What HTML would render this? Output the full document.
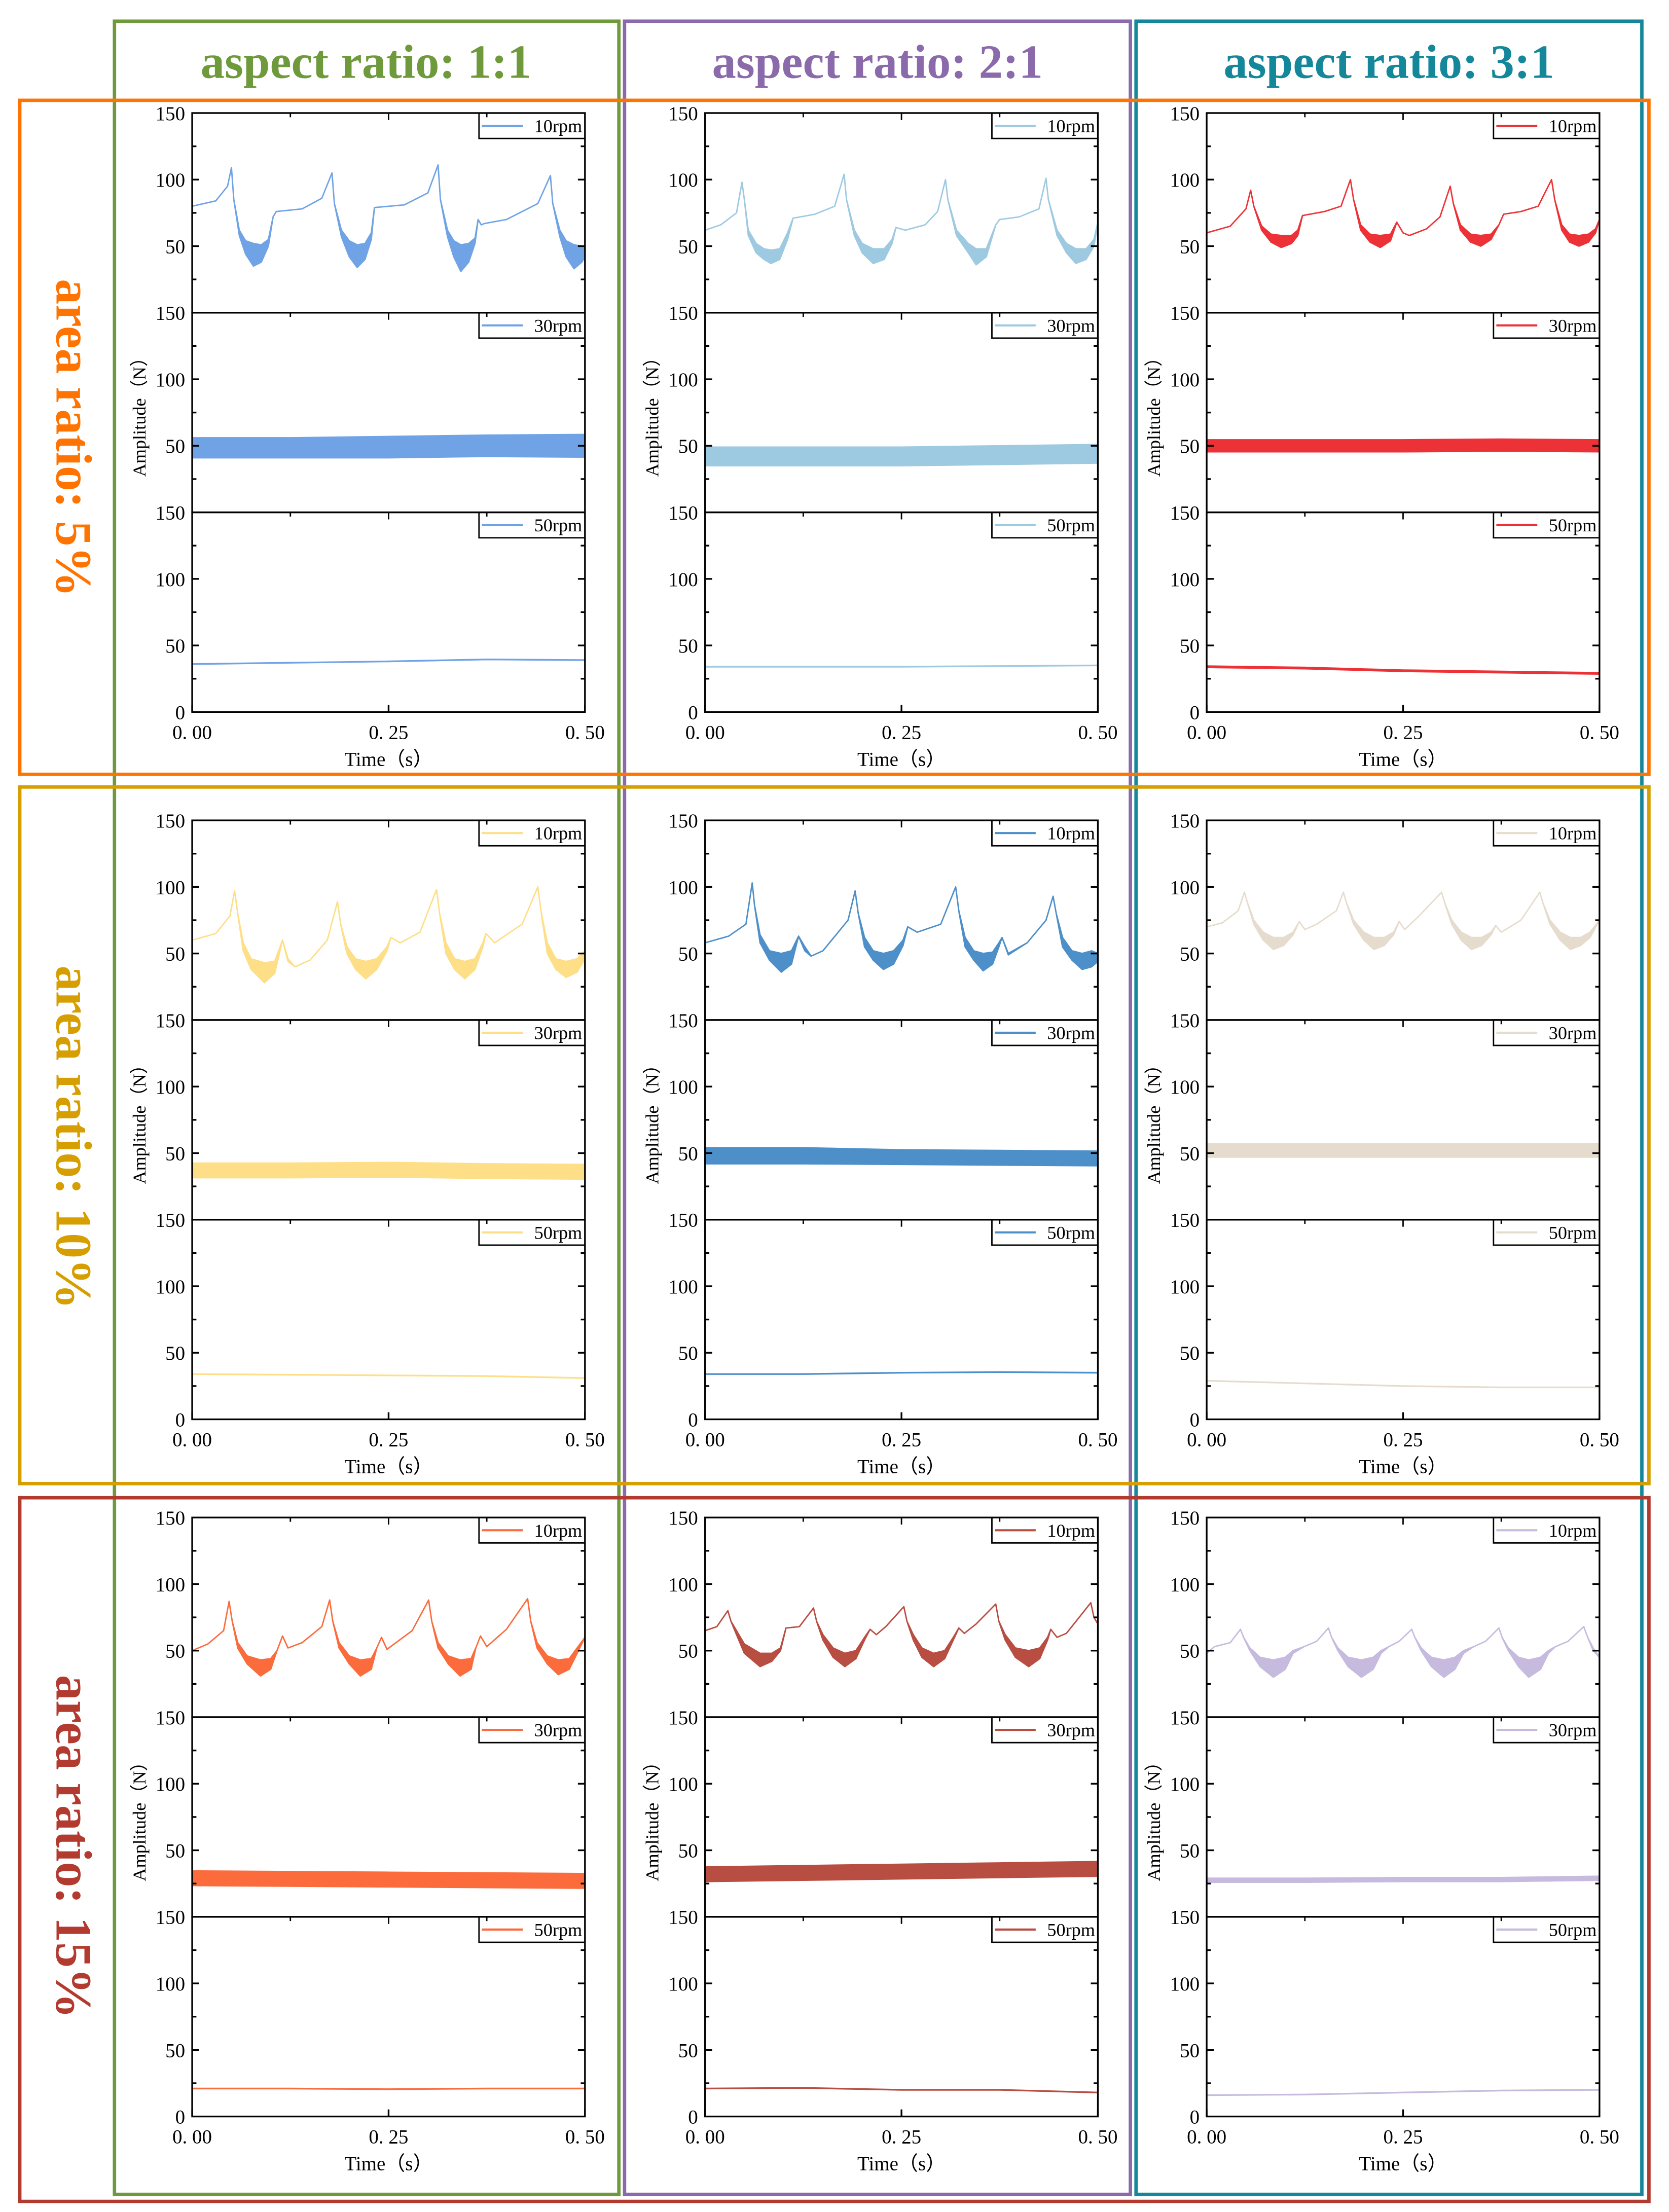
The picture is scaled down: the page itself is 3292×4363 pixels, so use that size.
<!DOCTYPE html>
<html><head><meta charset="utf-8">
<style>
html,body{margin:0;padding:0;background:#fff;}
svg{display:block;}
text{font-family:"Liberation Serif",serif;}
</style></head>
<body>
<svg id="fig" xmlns="http://www.w3.org/2000/svg" width="3292" height="4363" viewBox="0 0 1181.2 1565.5">
<rect x="0" y="0" width="1181.2" height="1565.5" fill="#fff"/>
<g id="frames" fill="none" stroke-width="2.4">
 <rect x="81" y="15" width="357" height="1538" stroke="#6e9a3c"/>
 <rect x="442" y="15" width="358" height="1538" stroke="#8a6aaa"/>
 <rect x="804" y="15" width="358" height="1538" stroke="#14889a"/>
 <rect x="14" y="71" width="1153" height="477" stroke="#ff7300"/>
 <rect x="14" y="557" width="1153" height="493" stroke="#d69e00"/>
 <rect x="14" y="1060" width="1153" height="498" stroke="#b23a2e"/>
</g>
<g font-weight="bold" font-size="34" text-anchor="middle">
 <text x="259" y="55" fill="#6e9a3c">aspect ratio: 1:1</text>
 <text x="621" y="55" fill="#8a6aaa">aspect ratio: 2:1</text>
 <text x="983" y="55" fill="#14889a">aspect ratio: 3:1</text>
 <text transform="translate(52,310) rotate(90)" dominant-baseline="central" font-size="36" fill="#ff7300">area ratio: 5%</text>
 <text transform="translate(52,805) rotate(90)" dominant-baseline="central" font-size="36" fill="#d69e00">area ratio: 10%</text>
 <text transform="translate(52,1307) rotate(90)" dominant-baseline="central" font-size="36" fill="#b23a2e">area ratio: 15%</text>
</g>
<g id="charts"></g>
</svg>
<script>
// ---------- data ----------
const xTickValues = [0, 0.25, 0.5];
const xTickLabels = ["0. 00", "0. 25", "0. 50"];
const yTickValues = [150, 100, 50];
const speedLabels = ["10rpm", "30rpm", "50rpm"];
const bandT = [0, 0.125, 0.25, 0.375, 0.5];

const t_r1c1 = [0,.03,.045,.050,.053,.060,.068,.078,.088,.097,.103,.107,.14,.165,.178,.181,.19,.200,.210,.220,.228,.232,.27,.30,.313,.316,.325,.333,.342,.352,.360,.364,.368,.372,.40,.44,.456,.459,.468,.476,.486,.496,.5];
const hi_r1c1 = [80,84,95,109,85,62,54,52,51,55,72,76,78,86,105,82,62,54,51,52,60,79,81,90,111,85,62,54,51,52,56,70,66,67,70,82,103,82,62,54,51,50,50];
const lo_r1c1 = [80,84,95,109,85,58,44,35,38,50,72,76,78,86,105,82,57,42,34,40,55,79,81,90,111,85,57,42,31,38,52,70,66,67,70,82,103,82,57,42,33,38,42];

const t_r1c2 = [0,.02,.04,.047,.050,.055,.065,.075,.084,.095,.105,.112,.14,.165,.177,.180,.19,.200,.214,.228,.238,.243,.255,.28,.296,.306,.309,.32,.335,.345,.358,.370,.375,.40,.425,.434,.437,.448,.46,.472,.485,.495,.5];
const hi_r1c2 = [62,66,75,98,85,62,52,48,47,48,60,71,74,80,104,85,62,52,48,48,55,64,62,66,76,100,85,62,52,48,48,66,70,72,78,101,85,62,52,48,48,55,68];
const lo_r1c2 = [62,66,75,98,85,58,45,40,37,40,55,71,74,80,104,85,58,45,37,40,52,64,62,66,76,100,85,58,45,36,42,66,70,72,78,101,85,58,45,37,40,50,68];

const t_r1c3 = [0,.03,.05,.056,.06,.07,.082,.095,.108,.116,.122,.15,.171,.183,.187,.196,.208,.221,.234,.242,.25,.258,.28,.297,.31,.314,.323,.336,.349,.362,.372,.378,.40,.422,.439,.443,.452,.462,.474,.486,.495,.5];
const hi_r1c3 = [60,65,78,92,80,65,59,58,58,62,73,76,80,100,85,66,59,58,59,68,60,58,63,72,95,82,66,59,58,59,66,74,76,80,100,85,66,59,58,59,63,70];
const lo_r1c3 = [60,65,78,92,80,62,53,49,52,58,73,76,80,100,85,62,53,49,54,68,60,58,63,72,95,82,62,53,50,55,66,74,76,80,100,85,62,53,50,53,60,70];

const t_r2c1 = [0,.03,.048,.054,.058,.065,.075,.092,.105,.115,.122,.131,.15,.172,.185,.189,.197,.208,.221,.235,.248,.253,.265,.29,.311,.315,.323,.334,.347,.36,.37,.374,.385,.42,.44,.444,.452,.463,.476,.49,.5];
const hi_r2c1 = [60,65,78,97,80,58,46,43,44,60,46,40,45,60,89,72,55,46,44,46,55,62,58,66,98,80,58,46,44,46,58,65,58,72,100,82,58,46,44,46,52];
const lo_r2c1 = [60,65,78,97,80,52,38,28,35,60,44,40,45,60,89,72,50,38,31,38,52,62,58,66,98,80,50,38,31,38,55,65,58,72,100,82,50,38,32,36,46];

const t_r2c2 = [0,.03,.052,.06,.063,.07,.082,.097,.11,.119,.127,.135,.15,.182,.191,.195,.203,.214,.227,.24,.252,.258,.27,.30,.319,.323,.331,.342,.354,.366,.374,.378,.386,.41,.434,.443,.447,.455,.467,.48,.492,.5];
const hi_r2c2 = [58,63,72,103,86,64,52,50,52,63,55,48,52,75,97,80,62,52,50,52,60,70,66,72,100,82,62,52,50,51,58,62,50,58,75,93,80,62,52,50,52,50];
const lo_r2c2 = [58,63,72,103,86,58,45,36,42,63,52,48,52,75,97,80,55,45,38,42,56,70,66,72,100,82,55,45,37,42,55,62,49,58,75,93,80,55,45,38,40,44];

const t_r2c3 = [0,.02,.04,.048,.052,.06,.072,.085,.098,.11,.118,.125,.14,.165,.174,.178,.187,.2,.213,.226,.238,.245,.252,.27,.299,.303,.312,.324,.337,.35,.362,.368,.375,.40,.424,.428,.437,.45,.463,.476,.488,.5];
const hi_r2c3 = [70,73,82,96,88,75,66,62,62,66,74,68,72,82,96,88,75,66,62,62,66,74,68,78,96,88,75,66,62,62,66,71,66,75,96,88,75,66,62,62,66,75];
const lo_r2c3 = [70,73,82,96,88,72,60,53,56,64,74,68,72,82,96,88,72,60,53,56,64,74,68,78,96,88,72,60,53,56,64,71,66,75,96,88,72,60,53,56,62,75];

const t_r3c1 = [0,.02,.04,.047,.051,.058,.07,.087,.1,.108,.115,.122,.14,.165,.175,.179,.187,.2,.214,.228,.235,.241,.248,.28,.301,.305,.313,.326,.341,.355,.361,.367,.375,.40,.427,.431,.439,.452,.466,.48,.49,.5];
const hi_r3c1 = [50,55,65,87,72,56,46,43,44,50,61,52,56,68,88,72,56,46,43,44,52,60,51,65,88,72,56,46,43,44,52,61,53,66,89,72,56,46,43,44,52,60];
const lo_r3c1 = [50,55,65,87,72,52,40,31,36,50,61,52,56,68,88,72,52,40,31,36,52,60,51,65,88,72,52,40,31,36,52,61,53,66,89,72,52,40,32,36,48,60];

const t_r3c2 = [0,.015,.029,.033,.04,.05,.07,.085,.096,.103,.12,.138,.142,.15,.163,.178,.192,.203,.21,.218,.23,.253,.257,.265,.276,.291,.305,.316,.323,.33,.345,.37,.374,.382,.395,.412,.426,.436,.44,.448,.46,.491,.495,.5];
const hi_r3c2 = [65,68,80,72,65,55,48,48,52,67,68,82,72,62,52,48,50,60,66,62,68,83,72,62,52,48,50,60,67,63,70,85,72,62,52,50,52,60,66,60,63,86,75,70];
const lo_r3c2 = [65,68,80,72,62,48,38,42,50,67,68,82,72,58,45,38,44,58,66,62,68,83,72,58,45,38,44,58,67,63,70,85,72,58,45,38,44,58,66,60,63,86,75,70];

const t_r3c3 = [0,.01,.03,.043,.047,.055,.068,.085,.1,.11,.124,.14,.155,.159,.167,.18,.197,.212,.222,.232,.245,.261,.265,.273,.286,.302,.316,.327,.34,.355,.372,.376,.384,.397,.41,.425,.435,.444,.46,.48,.485,.492,.5];
const hi_r3c3 = [48,53,56,66,60,52,45,43,45,50,53,57,67,60,52,45,43,45,50,53,57,66,60,52,45,43,45,50,53,57,67,60,52,45,43,45,50,53,57,68,60,52,45];
const lo_r3c3 = [48,53,56,66,60,50,38,30,36,48,53,57,67,60,50,38,30,36,48,53,57,66,60,50,38,30,36,48,53,57,67,60,50,38,30,36,48,53,57,68,60,50,45];

// 30 rpm band: centre and half-thickness at bandT
const mid30_r1c1 = [48.5,48.5,49,50,50];  const half30_r1c1 = [7.5,7.5,8,8,8.5];
const mid30_r1c2 = [42,42,42,43,44];      const half30_r1c2 = [7,7,7,7,7];
const mid30_r1c3 = [50,50,50,50.5,50];    const half30_r1c3 = [4.5,4.5,4.5,4.5,4.5];
const mid30_r2c1 = [37,37,37.5,36.5,36];  const half30_r2c1 = [5.5,5.5,5.5,5.5,5.5];
const mid30_r2c2 = [48,48,47,46.5,46];    const half30_r2c2 = [6,6,5.5,5.5,5.5];
const mid30_r2c3 = [52,52,52,52,52];      const half30_r2c3 = [5,5,5,5,5];
const mid30_r3c1 = [29,28.5,28,27.5,27];  const half30_r3c1 = [5.5,5.5,5.5,5.5,5.5];
const mid30_r3c2 = [32,33,34,35,36];      const half30_r3c2 = [5.5,5.5,5.5,5.5,5.5];
const mid30_r3c3 = [27.5,27.5,28,28,29];  const half30_r3c3 = [1.5,1.5,1.5,1.5,1.5];

// 50 rpm line values at bandT
const line50_r1c1 = [36,37,38,39.5,39];
const line50_r1c2 = [34,34,34,34.5,35];
const line50_r1c3 = [34,33,31,30,29];
const line50_r2c1 = [34,33.5,33,32.5,31];
const line50_r2c2 = [34,34,35,35.5,35];
const line50_r2c3 = [29,27,25,24,24];
const line50_r3c1 = [21,21,20.5,21,21];
const line50_r3c2 = [21,21.5,20,20,18];
const line50_r3c3 = [16,16.5,18,19.5,20];

const seriesColors = ["#6fa3e6","#9ecae1","#ec3237","#fedf88","#4d8fc9","#e6dccd","#fb6b3c","#b84d42","#c6bbde"];

// ---------- layout ----------
const colX = [136, 499, 854];
const rowY = [80, 580.6, 1074];
const plotW = 278, subH = 141.3;
const NS = "http://www.w3.org/2000/svg";
const charts = document.getElementById("charts");

function mk(tag, parent){ const e = document.createElementNS(NS, tag); parent.appendChild(e); return e; }

const panels = [
 [t_r1c1,hi_r1c1,lo_r1c1,mid30_r1c1,half30_r1c1,line50_r1c1],
 [t_r1c2,hi_r1c2,lo_r1c2,mid30_r1c2,half30_r1c2,line50_r1c2],
 [t_r1c3,hi_r1c3,lo_r1c3,mid30_r1c3,half30_r1c3,line50_r1c3],
 [t_r2c1,hi_r2c1,lo_r2c1,mid30_r2c1,half30_r2c1,line50_r2c1],
 [t_r2c2,hi_r2c2,lo_r2c2,mid30_r2c2,half30_r2c2,line50_r2c2],
 [t_r2c3,hi_r2c3,lo_r2c3,mid30_r2c3,half30_r2c3,line50_r2c3],
 [t_r3c1,hi_r3c1,lo_r3c1,mid30_r3c1,half30_r3c1,line50_r3c1],
 [t_r3c2,hi_r3c2,lo_r3c2,mid30_r3c2,half30_r3c2,line50_r3c2],
 [t_r3c3,hi_r3c3,lo_r3c3,mid30_r3c3,half30_r3c3,line50_r3c3]
];

panels.forEach((p, idx) => {
  const row = Math.floor(idx/3), col = idx%3;
  const L = colX[col], T0 = rowY[row], color = seriesColors[idx];
  const xs = t => L + t/0.5*plotW;
  const g = mk("g", charts);
  
  

  for (let k = 0; k < 3; k++) {
    const top = T0 + k*subH;
    const ys = v => top + subH*(1 - v/150);
    const sg = mk("g", g);
    
    

    // series
    let d;
    if (k === 0) {
      const [tt, hi, lo] = p;
      d = "M" + tt.map((t,i)=>xs(t).toFixed(2)+","+ys(hi[i]).toFixed(2)).join("L");
      for (let i = tt.length-1; i >= 0; i--) d += "L" + xs(tt[i]).toFixed(2) + "," + ys(lo[i]).toFixed(2);
      d += "Z";
    } else if (k === 1) {
      const mid = p[3], half = p[4];
      d = "M" + bandT.map((t,i)=>xs(t).toFixed(2)+","+ys(mid[i]+half[i]).toFixed(2)).join("L");
      for (let i = bandT.length-1; i >= 0; i--) d += "L" + xs(bandT[i]).toFixed(2) + "," + ys(mid[i]-half[i]).toFixed(2);
      d += "Z";
    } else {
      const ln = p[5];
      d = "M" + bandT.map((t,i)=>xs(t).toFixed(2)+","+ys(ln[i]).toFixed(2)).join("L");
    }
    const path = mk("path", sg);
    path.setAttribute("d", d);
    path.setAttribute("fill", k === 2 ? "none" : color);
    path.setAttribute("stroke", color);
    path.setAttribute("stroke-width", k === 2 ? (idx===2 ? 2 : 1.2) : 1);
    path.setAttribute("stroke-linejoin", "round");
    
    

    // frame
    const fr = mk("rect", sg);
    fr.setAttribute("x", L); fr.setAttribute("y", top);
    fr.setAttribute("width", plotW); fr.setAttribute("height", subH);
    fr.setAttribute("fill", "none"); fr.setAttribute("stroke", "#000"); fr.setAttribute("stroke-width", 1.2);
    
    

    // y ticks (inward, both sides)
    [25,50,75,100,125].forEach(v => {
      const len = v % 50 === 0 ? 5 : 3;
      [[L, L+len],[L+plotW, L+plotW-len]].forEach(([a,b]) => {
        const tl = mk("line", sg);
        tl.setAttribute("x1", a); tl.setAttribute("x2", b);
        tl.setAttribute("y1", ys(v)); tl.setAttribute("y2", ys(v));
        tl.setAttribute("stroke", "#000"); tl.setAttribute("stroke-width", 1.2);
        
        
      });
    });
    // x ticks on top edge
    [0.125, 0.25, 0.375].forEach(t => {
      const tl = mk("line", sg);
      tl.setAttribute("x1", xs(t)); tl.setAttribute("x2", xs(t));
      tl.setAttribute("y1", top); tl.setAttribute("y2", top + (t===0.25?5:3));
      tl.setAttribute("stroke", "#000"); tl.setAttribute("stroke-width", 1);
      
      
    });

    // y tick labels
    const yv = k === 2 ? yTickValues.concat([0]) : yTickValues;
    yv.forEach(v => {
      const tx = mk("text", sg);
      tx.setAttribute("x", L - 5); tx.setAttribute("y", ys(v) + 5);
      tx.setAttribute("text-anchor", "end"); tx.setAttribute("font-size", 14);
      tx.textContent = String(v);
      
      
    });

    // legend
    const lg = mk("g", sg);
    
    
    const lx = L + plotW - 75, ly = top, lh = 18;
    const lb = mk("path", lg);
    lb.setAttribute("d", `M${lx},${ly}L${lx},${ly+lh}L${L+plotW},${ly+lh}`);
    lb.setAttribute("fill", "none"); lb.setAttribute("stroke", "#000"); lb.setAttribute("stroke-width", 1);
    const ll = mk("line", lg);
    ll.setAttribute("x1", lx+2); ll.setAttribute("x2", lx+31);
    ll.setAttribute("y1", ly+9); ll.setAttribute("y2", ly+9);
    ll.setAttribute("stroke", color); ll.setAttribute("stroke-width", 1.5);
    const lt = mk("text", lg);
    lt.setAttribute("x", L+plotW-2); lt.setAttribute("y", ly+13.5);
    lt.setAttribute("text-anchor", "end"); lt.setAttribute("font-size", 13);
    lt.textContent = speedLabels[k];
  }

  const bottom = T0 + 3*subH;
  xTickValues.forEach((t,i) => {
    const tl = mk("line", g);
    tl.setAttribute("x1", xs(t)); tl.setAttribute("x2", xs(t));
    tl.setAttribute("y1", bottom); tl.setAttribute("y2", bottom - 5);
    tl.setAttribute("stroke", "#000"); tl.setAttribute("stroke-width", 1.2);
    
    
    const tx = mk("text", g);
    tx.setAttribute("x", xs(t)); tx.setAttribute("y", bottom + 19);
    tx.setAttribute("text-anchor", "middle"); tx.setAttribute("font-size", 14);
    tx.textContent = xTickLabels[i];
    
    
  });
  const xt = mk("text", g);
  xt.setAttribute("x", L + plotW/2); xt.setAttribute("y", bottom + 38);
  xt.setAttribute("text-anchor", "middle"); xt.setAttribute("font-size", 14);
  xt.textContent = "Time（s）";
  
  
  const yt = mk("text", g);
  const cy = T0 + 1.5*subH;
  yt.setAttribute("transform", `translate(${L-33},${cy}) rotate(-90)`);
  yt.setAttribute("text-anchor", "middle"); yt.setAttribute("font-size", 13);
  yt.textContent = "Amplitude（N）";
  
  
});
</script>
</body></html>
